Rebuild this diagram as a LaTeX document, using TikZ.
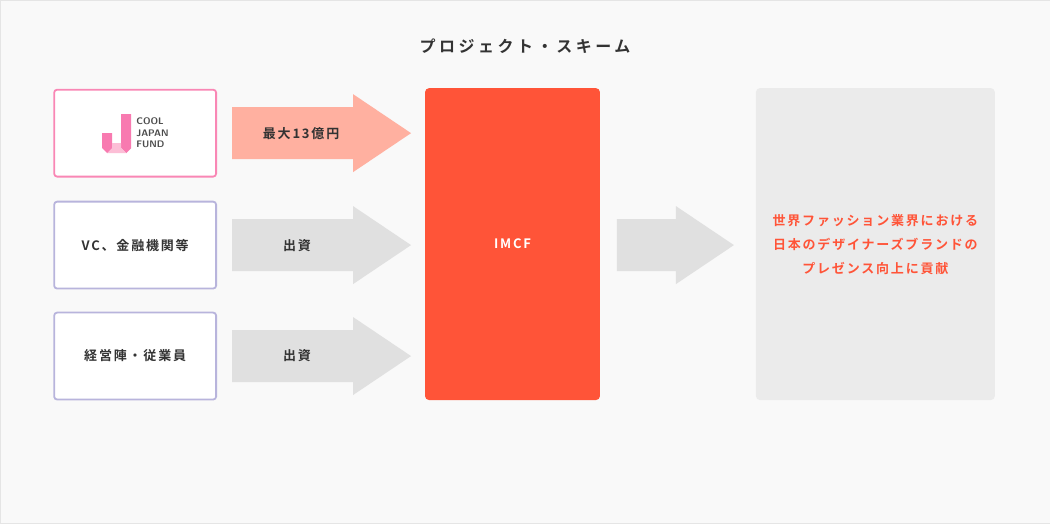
\documentclass[tikz,border=0pt]{standalone}
\usepackage{fontspec}
\newfontfamily\jpfont{Noto Sans CJK JP}[BoldFont={Noto Sans CJK JP Bold}, LetterSpace=14]
\newfontfamily\jptitle{Noto Sans CJK JP}[BoldFont={Noto Sans CJK JP Bold}, LetterSpace=22]
\definecolor{bgpage}{RGB}{249,249,249}
\definecolor{pinkline}{RGB}{249,135,181}
\definecolor{lavline}{RGB}{184,180,220}
\definecolor{salmon}{RGB}{255,176,160}
\definecolor{greyarrow}{RGB}{224,224,224}
\definecolor{imcfred}{RGB}{255,84,56}
\definecolor{greybox}{RGB}{235,235,235}
\definecolor{jpink}{RGB}{248,122,176}
\definecolor{jlight}{RGB}{252,190,214}
\tikzset{
  every node/.style={font=\jpfont\bfseries\fontsize{13}{16}\selectfont, text=black!80},
  srcbox/.style={draw=lavline, line width=1.8pt, rounded corners=3pt, fill=white,
    minimum width=162, minimum height=87, inner sep=0},
}
% big block arrow: tail x, centre y, shaft end x, tip x
\newcommand{\blockarrow}[5]{%
  \fill[#1] (#2,#3-26) -- (#4,#3-26) -- (#4,#3-39) -- (#5,#3) -- (#4,#3+39)
    -- (#4,#3+26) -- (#2,#3+26) -- cycle;}
\begin{document}
\begin{tikzpicture}[x=1pt, y=-1pt]
  \fill[bgpage, draw=black!10] (0,0) rectangle (1050,523);
  \node[font=\jptitle\bfseries\fontsize{16}{19}\selectfont] (title) at (525,46) {プロジェクト・スキーム};

  % funding sources
  \node[srcbox, draw=pinkline] (cjf) at (135,133) {};
  \node[srcbox] (vc) at (135,245) {VC、金融機関等};
  \node[srcbox] (staff) at (135,356) {経営陣・従業員};

  % logo
  \fill[jpink] (121,114) -- (131,114) -- (131,148) -- (126,153) -- (121,148) -- cycle;
  \fill[jpink] (102,133) -- (112,133) -- (112,148) -- (107,153) -- (102,148) -- cycle;
  \fill[jlight] (112,143) -- (121,143) -- (121,148) -- (126,153) -- (107,153) -- (112,148) -- cycle;
  \node[font=\sffamily\bfseries\fontsize{9.5}{11.5}\selectfont, text=black!70, align=left,
    anchor=west, inner sep=0] (cjftext) at (136,133) {COOL\\JAPAN\\FUND};

  % arrows
  \blockarrow{salmon}{232}{133}{353}{411}
  \node (a1lbl) at (301,133) {最大13億円};
  \blockarrow{greyarrow}{232}{245}{353}{411}
  \node (a2lbl) at (297,245) {出資};
  \blockarrow{greyarrow}{232}{356}{353}{411}
  \node (a3lbl) at (297,356) {出資};

  \node[fill=imcfred, rounded corners=4pt, minimum width=175, minimum height=312,
    inner sep=0, text=white] (imcf) at (512.5,244) {IMCF};

  \blockarrow{greyarrow}{617}{245}{676}{734}

  \node[fill=greybox, rounded corners=4pt, minimum width=239, minimum height=312,
    inner sep=0, text=imcfred, align=center, font=\jpfont\bfseries\fontsize{13}{24}\selectfont]
    (goal) at (875.5,244) {世界ファッション業界における\\日本のデザイナーズブランドの\\プレゼンス向上に貢献};
\end{tikzpicture}
\end{document}
